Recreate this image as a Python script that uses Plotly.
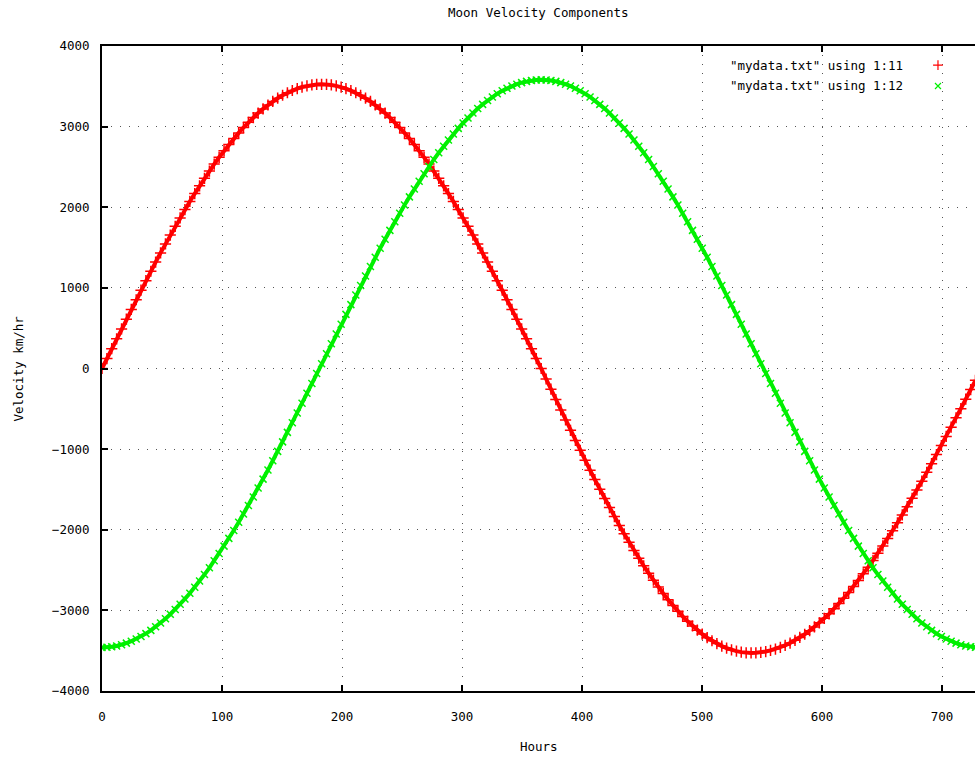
import plotly.graph_objects as go

hours = [
    0, 4.1, 8.1, 12.2, 16.3, 20.3, 24.4, 28.5, 32.5, 36.6, 40.7, 44.7,
    48.8, 52.9, 56.9, 61.0, 65.1, 69.1, 73.2, 77.3, 81.3, 85.4, 89.5, 93.5,
    97.6, 101.7, 105.7, 109.8, 113.9, 117.9, 122.0, 126.1, 130.1, 134.2, 138.3, 142.3,
    146.4, 150.5, 154.5, 158.6, 162.7, 166.7, 170.8, 174.9, 178.9, 183.0, 187.1, 191.1,
    195.2, 199.3, 203.3, 207.4, 211.5, 215.5, 219.6, 223.7, 227.7, 231.8, 235.9, 239.9,
    244.0, 248.1, 252.1, 256.2, 260.3, 264.3, 268.4, 272.5, 276.5, 280.6, 284.7, 288.7,
    292.8, 296.9, 300.9, 305.0, 309.1, 313.1, 317.2, 321.3, 325.3, 329.4, 333.5, 337.5,
    341.6, 345.7, 349.7, 353.8, 357.9, 361.9, 366.0, 370.1, 374.1, 378.2, 382.3, 386.3,
    390.4, 394.5, 398.5, 402.6, 406.7, 410.7, 414.8, 418.9, 422.9, 427.0, 431.1, 435.1,
    439.2, 443.3, 447.3, 451.4, 455.5, 459.5, 463.6, 467.7, 471.7, 475.8, 479.9, 483.9,
    488.0, 492.1, 496.1, 500.2, 504.3, 508.3, 512.4, 516.5, 520.5, 524.6, 528.7, 532.7,
    536.8, 540.9, 544.9, 549.0, 553.1, 557.1, 561.2, 565.3, 569.3, 573.4, 577.5, 581.5,
    585.6, 589.7, 593.7, 597.8, 601.9, 605.9, 610.0, 614.1, 618.1, 622.2, 626.3, 630.3,
    634.4, 638.5, 642.5, 646.6, 650.7, 654.7, 658.8, 662.9, 666.9, 671.0, 675.1, 679.1,
    683.2, 687.3, 691.3, 695.4, 699.5, 703.5, 707.6, 711.7, 715.7, 719.8, 723.9, 727.9,
]

# column 11 of mydata.txt (red '+')
vel_col11 = [
    0, 123, 246, 368, 491, 612, 733, 853, 971, 1089, 1206, 1320, 1434, 1545, 1655, 1763,
    1868, 1971, 2072, 2170, 2266, 2359, 2449, 2536, 2619, 2700, 2778, 2852, 2922, 2989,
    3053, 3112, 3168, 3220, 3268, 3312, 3353, 3389, 3420, 3448, 3471, 3491, 3506, 3517,
    3523, 3525,
    3523, 3517, 3506, 3491, 3471, 3448, 3420, 3389, 3353, 3312, 3268, 3220, 3168, 3112,
    3053, 2989, 2922, 2852, 2778, 2700, 2619, 2536, 2449, 2359, 2266, 2170, 2072, 1971,
    1868, 1763, 1655, 1545, 1434, 1320, 1206, 1089, 971, 853, 733, 612, 491, 368, 246,
    123, 0,
    -130, -256, -386, -514, -639, -767, -893, -1015, -1138, -1261, -1378, -1497, -1613,
    -1725, -1837, -1946, -2050, -2155, -2256, -2352, -2447, -2539, -2626, -2711, -2791,
    -2867, -2941, -3011, -3075, -3136, -3194, -3245, -3294, -3339, -3377, -3412, -3443,
    -3468, -3490, -3506, -3518, -3526, -3528,
    -3526, -3521, -3511, -3497, -3480, -3458, -3434, -3405, -3372, -3336, -3296, -3252,
    -3205, -3154, -3099, -3043, -2981, -2916, -2849, -2778, -2703, -2628, -2547, -2464,
    -2380, -2291, -2200, -2109, -2012, -1914, -1816, -1714, -1609, -1506, -1398, -1288,
    -1180, -1068, -955, -843, -728, -611, -498, -380, -262, -147,
]

# column 12 of mydata.txt (green 'x')
vel_col12 = [
    -3460, -3458, -3452, -3441, -3426, -3406, -3383, -3355, -3324, -3288, -3248, -3204,
    -3156, -3104, -3048, -2988, -2925, -2858, -2788, -2714, -2636, -2556, -2472, -2385,
    -2295, -2203, -2107, -2009, -1908, -1805, -1700, -1593, -1483, -1372, -1259, -1144,
    -1028, -910, -792, -672, -551, -430, -308, -186, -63, 60,
    183, 306, 428, 550, 671, 792, 912, 1030, 1148, 1264, 1379, 1492, 1603, 1713, 1820,
    1925, 2028, 2129, 2227, 2323, 2415, 2505, 2592, 2676, 2756, 2834, 2908, 2978, 3045,
    3108, 3168, 3224, 3276, 3324, 3368, 3408, 3444, 3475, 3503, 3526, 3546, 3561, 3572,
    3578, 3580,
    3578, 3572, 3561, 3546, 3526, 3503, 3475, 3444, 3408, 3368, 3324, 3276, 3224, 3168,
    3108, 3045, 2978, 2908, 2834, 2756, 2676, 2592, 2505, 2415, 2323, 2227, 2129, 2028,
    1925, 1820, 1713, 1603, 1492, 1379, 1264, 1148, 1030, 912, 792, 671, 550, 428, 306,
    183, 60,
    -63, -186, -308, -430, -551, -672, -792, -910, -1028, -1144, -1259, -1372, -1483,
    -1593, -1700, -1805, -1908, -2009, -2107, -2203, -2295, -2385, -2472, -2556, -2636,
    -2714, -2788, -2858, -2925, -2988, -3048, -3104, -3156, -3204, -3248, -3288, -3324,
    -3355, -3383, -3406, -3426, -3441, -3452, -3458,
]

x_ticks = [0, 100, 200, 300, 400, 500, 600, 700]
y_ticks = [-4000, -3000, -2000, -1000, 0, 1000, 2000, 3000, 4000]
legend_labels = ['"mydata.txt" using 1:11', '"mydata.txt" using 1:12']

RED = "#ff0000"
GREEN = "#00f000"
FONT = "DejaVu Sans Mono"

fig = go.Figure()
fig.add_trace(go.Scatter(
    x=hours, y=vel_col11, mode="lines+markers", name=legend_labels[0],
    line=dict(color=RED, width=4),
    marker=dict(symbol="cross-thin", size=8, line=dict(color=RED, width=1.5)),
    showlegend=False,
))
fig.add_trace(go.Scatter(
    x=hours, y=vel_col12, mode="lines+markers", name=legend_labels[1],
    line=dict(color=GREEN, width=4),
    marker=dict(symbol="x-thin", size=7, line=dict(color=GREEN, width=1.5)),
    showlegend=False,
))

# gnuplot-style key (text then sample symbol on the right)
fig.add_trace(go.Scatter(
    x=[0.9576], y=[0.9705], xaxis="x2", yaxis="y2", mode="markers",
    marker=dict(symbol="cross-thin", size=7, line=dict(color=RED, width=1.2)),
    showlegend=False, hoverinfo="skip",
))
fig.add_trace(go.Scatter(
    x=[0.9576], y=[0.938], xaxis="x2", yaxis="y2", mode="markers",
    marker=dict(symbol="x-thin", size=6, line=dict(color=GREEN, width=1.2)),
    showlegend=False, hoverinfo="skip",
))

axis_common = dict(
    showline=True, linecolor="black", linewidth=2,
    ticks="inside", ticklen=6, tickwidth=2, tickcolor="black",
    showgrid=True, gridcolor="#555555", gridwidth=1, griddash="1px,8px",
    zeroline=False,
    tickfont=dict(family=FONT, size=12.5, color="black"),
)

fig.update_layout(
    width=975, height=759,
    margin=dict(l=102, r=0, t=46, b=68),
    paper_bgcolor="white", plot_bgcolor="white",
    xaxis=dict(range=[0, 727.5], tickvals=x_ticks, mirror="ticks",
               ticklabelstandoff=13, **axis_common),
    yaxis=dict(range=[-4000, 4000], tickvals=y_ticks, mirror=False,
               ticklabelstandoff=8, **axis_common),
    xaxis2=dict(overlaying="x", range=[0, 1], visible=False),
    yaxis2=dict(overlaying="y", range=[0, 1], visible=False),
    annotations=[
        dict(text="Moon Velocity Components", xref="paper", yref="paper",
             x=0.5, y=1.0527, xanchor="center", yanchor="middle", showarrow=False,
             font=dict(family=FONT, size=12.5, color="black")),
        dict(text="Hours", xref="paper", yref="paper",
             x=0.5, y=-0.0853, xanchor="center", yanchor="middle", showarrow=False,
             font=dict(family=FONT, size=12.5, color="black")),
        dict(text="Velocity km/hr", xref="paper", yref="paper",
             x=-0.0962, y=0.5, xanchor="center", yanchor="middle", showarrow=False,
             textangle=-90, font=dict(family=FONT, size=12.5, color="black")),
        dict(text=legend_labels[0], xref="paper", yref="paper",
             x=0.9198, y=0.9705, xanchor="right", yanchor="middle", showarrow=False,
             font=dict(family=FONT, size=12.5, color="black")),
        dict(text=legend_labels[1], xref="paper", yref="paper",
             x=0.9198, y=0.938, xanchor="right", yanchor="middle", showarrow=False,
             font=dict(family=FONT, size=12.5, color="black")),
    ],
)

fig.write_html("out.html")
